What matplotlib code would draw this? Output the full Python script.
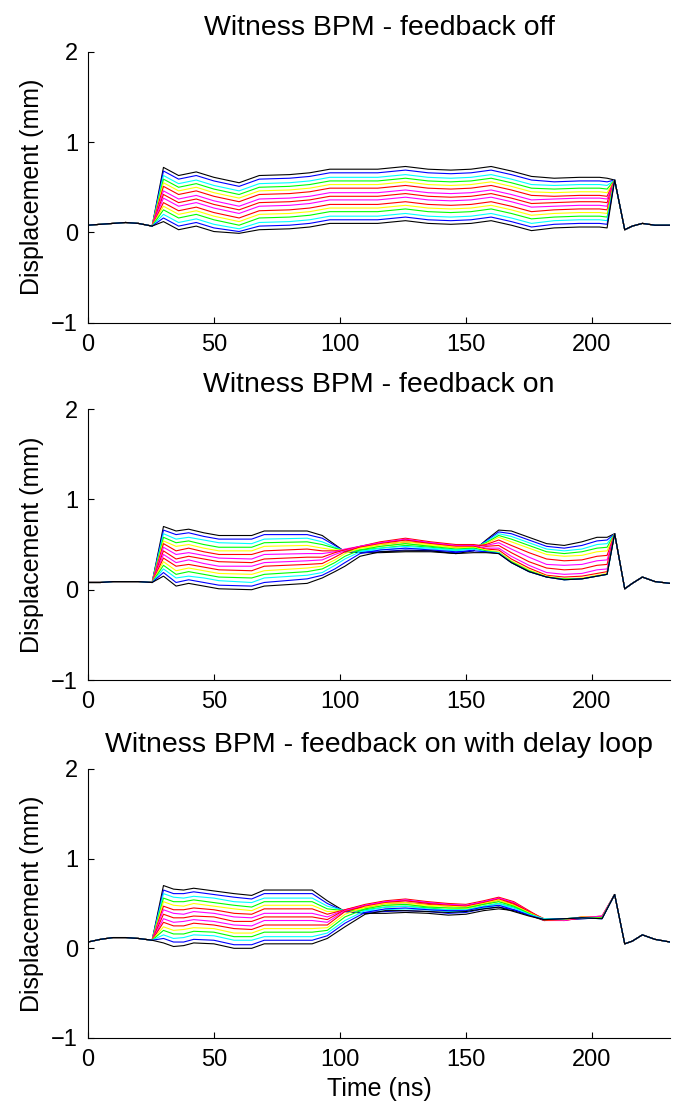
import matplotlib
matplotlib.use("Agg")
import matplotlib.pyplot as plt

plt.rcParams['font.family'] = ['Liberation Sans', 'DejaVu Sans']

# ---------------- data ----------------
titles = ["Witness BPM - feedback off",
          "Witness BPM - feedback on",
          "Witness BPM - feedback on with delay loop"]
xticks = [0, 50, 100, 150, 200]
yticks = [-1, 0, 1, 2]

# trace colours, top trace to bottom trace
trace_colors = ['#000000', '#0000ff', '#00ffff', '#00ff00', '#ffff00', '#ff0000', '#ff00ff',
                '#ff0000', '#ff00ff', '#ff0000', '#ffff00', '#00ff00', '#00ffff', '#0000ff', '#000000']

# shared pre-pulse part (ns, mm)
head_t = [0, 5, 10, 15, 20, 25.5]
off_head = [0.08, 0.09, 0.10, 0.11, 0.10, 0.07]
on_head = [0.08, 0.08, 0.09, 0.09, 0.09, 0.08]
dl_head = [0.07, 0.10, 0.12, 0.12, 0.11, 0.09]

# shared end spike and tail
tail_t = [209, 213, 216, 220, 225, 231]
off_tail = [0.58, 0.03, 0.07, 0.10, 0.08, 0.08]
on_tail = [0.62, 0.01, 0.07, 0.14, 0.09, 0.07]
dl_tail = [0.60, 0.05, 0.08, 0.15, 0.10, 0.07]

# ---- feedback off: pulse body, one row per trace
off_t = [30, 36, 43, 50, 60, 68, 80, 88, 96, 105, 115, 126, 135, 144, 152, 160, 168, 176, 185, 195, 203, 206]
off_traces = [
    [.72, .63, .67, .61, .55, .63, .64, .66, .70, .70, .70, .73, .70, .69, .70, .73, .68, .62, .60, .61, .61, .60],
    [.68, .59, .63, .57, .51, .59, .60, .62, .66, .66, .66, .69, .66, .65, .66, .69, .64, .58, .56, .57, .57, .56],
    [.63, .54, .58, .52, .46, .54, .55, .57, .61, .61, .61, .64, .61, .60, .61, .64, .59, .53, .52, .53, .53, .52],
    [.59, .50, .54, .48, .42, .50, .51, .53, .57, .57, .57, .60, .57, .56, .57, .60, .55, .49, .48, .49, .49, .48],
    [.55, .46, .50, .44, .38, .46, .47, .49, .53, .53, .53, .56, .53, .52, .53, .56, .51, .45, .44, .45, .45, .44],
    [.51, .42, .46, .40, .34, .42, .43, .45, .49, .49, .49, .52, .49, .48, .49, .52, .47, .41, .40, .41, .41, .40],
    [.46, .37, .41, .35, .29, .37, .38, .40, .44, .44, .44, .47, .44, .43, .44, .47, .42, .36, .37, .38, .38, .37],
    [.42, .33, .37, .31, .25, .33, .34, .36, .40, .40, .40, .43, .40, .39, .40, .43, .38, .32, .33, .34, .34, .33],
    [.38, .29, .33, .27, .21, .29, .30, .32, .36, .36, .36, .39, .36, .35, .36, .39, .34, .28, .29, .30, .30, .29],
    [.33, .24, .28, .22, .16, .24, .25, .27, .31, .31, .31, .34, .31, .30, .31, .34, .29, .23, .25, .26, .26, .25],
    [.29, .20, .24, .18, .12, .20, .21, .23, .27, .27, .27, .30, .27, .26, .27, .30, .25, .19, .21, .22, .22, .21],
    [.25, .16, .20, .14, .08, .16, .17, .19, .23, .23, .23, .26, .23, .22, .23, .26, .21, .15, .17, .18, .18, .17],
    [.20, .11, .15, .09, .04, .11, .12, .14, .18, .18, .18, .21, .18, .17, .18, .21, .16, .10, .13, .14, .14, .13],
    [.16, .07, .11, .05, .01, .07, .08, .10, .14, .14, .14, .17, .14, .13, .14, .17, .12, .06, .09, .10, .10, .09],
    [.12, .03, .07, .01, -.01, .03, .04, .06, .10, .10, .10, .13, .10, .09, .10, .13, .08, .02, .05, .06, .06, .05],
]

# ---- feedback on
on_t = [30, 35, 40, 46, 52, 65, 70, 87, 93, 98, 102, 108, 116, 126, 136, 146, 153, 158, 163, 168, 175, 182, 189, 196, 202, 206]
on_traces = [
    [.70, .65, .67, .63, .60, .60, .65, .65, .60, .50, .42, .41, .41, .42, .42, .40, .43, .55, .66, .65, .58, .51, .49, .53, .58, .58],
    [.66, .61, .63, .59, .56, .56, .61, .61, .57, .49, .42, .42, .42, .44, .43, .41, .44, .54, .64, .62, .55, .48, .46, .49, .54, .55],
    [.62, .56, .58, .55, .52, .51, .56, .57, .53, .47, .43, .43, .44, .46, .45, .43, .45, .53, .62, .59, .52, .45, .43, .45, .50, .51],
    [.58, .52, .54, .50, .47, .47, .52, .53, .50, .46, .43, .44, .46, .49, .47, .44, .46, .52, .60, .56, .49, .42, .40, .42, .46, .47],
    [.54, .48, .50, .46, .43, .43, .48, .49, .46, .44, .44, .46, .48, .51, .49, .46, .47, .51, .58, .53, .46, .39, .37, .38, .42, .43],
    [.51, .43, .46, .42, .39, .39, .43, .45, .43, .43, .44, .47, .50, .53, .51, .47, .48, .50, .55, .49, .41, .34, .32, .33, .37, .38],
    [.47, .39, .41, .38, .35, .34, .39, .40, .40, .42, .45, .48, .52, .55, .52, .49, .49, .49, .52, .45, .36, .28, .27, .28, .32, .33],
    [.43, .34, .37, .34, .31, .30, .34, .36, .36, .41, .44, .48, .53, .57, .53, .50, .50, .48, .49, .41, .31, .24, .22, .23, .27, .28],
    [.39, .30, .33, .29, .26, .26, .30, .32, .33, .39, .43, .48, .52, .56, .52, .49, .49, .46, .46, .37, .27, .19, .17, .18, .22, .23],
    [.35, .26, .28, .25, .22, .21, .26, .28, .29, .36, .42, .47, .51, .55, .51, .48, .48, .45, .44, .34, .24, .16, .14, .15, .18, .20],
    [.31, .21, .24, .21, .18, .17, .21, .24, .26, .33, .40, .46, .50, .53, .50, .47, .47, .44, .42, .32, .22, .15, .12, .13, .16, .18],
    [.27, .17, .20, .17, .14, .13, .17, .20, .23, .30, .37, .44, .48, .51, .48, .45, .46, .43, .41, .31, .21, .14, .12, .12, .15, .17],
    [.23, .13, .15, .13, .10, .08, .13, .16, .19, .27, .34, .42, .46, .48, .46, .44, .45, .42, .41, .30, .20, .14, .11, .12, .15, .17],
    [.19, .08, .11, .08, .05, .04, .08, .12, .16, .23, .30, .40, .44, .46, .44, .42, .43, .42, .40, .30, .20, .14, .11, .12, .15, .17],
    [.15, .04, .07, .04, .01, .00, .04, .07, .13, .20, .26, .37, .42, .43, .43, .40, .41, .41, .40, .30, .20, .14, .11, .12, .15, .17],
]

# ---- feedback on with delay loop
dl_t = [30, 34, 38, 42, 50, 58, 65, 70, 89, 95, 102, 110, 118, 126, 135, 143, 150, 157, 163, 169, 175, 181, 189, 196, 204]
dl_traces = [
    [.70, .66, .65, .67, .64, .61, .59, .65, .65, .53, .41, .39, .39, .40, .39, .37, .38, .42, .44, .42, .37, .31, .32, .33, .34],
    [.65, .61, .61, .63, .60, .57, .55, .61, .61, .50, .41, .40, .41, .42, .41, .39, .40, .44, .46, .43, .38, .32, .32, .33, .34],
    [.61, .57, .56, .58, .56, .52, .51, .56, .56, .47, .42, .42, .43, .44, .43, .41, .41, .45, .48, .45, .38, .32, .33, .34, .35],
    [.56, .52, .52, .54, .51, .48, .46, .52, .52, .44, .42, .43, .46, .47, .45, .43, .43, .47, .50, .46, .39, .32, .33, .34, .35],
    [.52, .48, .47, .50, .47, .44, .42, .48, .48, .41, .42, .45, .48, .49, .47, .45, .44, .49, .52, .48, .40, .33, .32, .34, .35],
    [.47, .43, .43, .45, .43, .39, .38, .44, .44, .38, .43, .46, .50, .51, .49, .47, .46, .50, .54, .49, .41, .33, .32, .34, .36],
    [.43, .39, .38, .41, .39, .35, .34, .39, .39, .35, .43, .48, .52, .53, .51, .49, .47, .52, .56, .51, .41, .32, .31, .34, .36],
    [.38, .34, .34, .36, .35, .30, .30, .35, .35, .32, .43, .49, .53, .55, .52, .50, .49, .53, .57, .52, .42, .32, .31, .34, .35],
    [.33, .29, .30, .32, .30, .26, .25, .31, .31, .29, .42, .48, .52, .54, .51, .49, .48, .52, .56, .51, .41, .31, .31, .35, .35],
    [.29, .25, .25, .28, .26, .22, .21, .26, .26, .26, .41, .47, .51, .53, .50, .48, .47, .51, .55, .50, .41, .31, .32, .35, .34],
    [.24, .20, .21, .23, .22, .17, .17, .22, .22, .23, .38, .46, .50, .51, .48, .47, .46, .50, .54, .48, .40, .32, .32, .35, .34],
    [.20, .16, .16, .19, .18, .13, .13, .18, .18, .20, .35, .44, .48, .49, .46, .45, .45, .49, .52, .47, .39, .32, .33, .34, .34],
    [.15, .11, .12, .15, .14, .09, .09, .13, .13, .17, .31, .42, .46, .47, .44, .43, .43, .47, .50, .45, .38, .33, .33, .34, .33],
    [.11, .07, .07, .10, .09, .04, .04, .09, .09, .14, .28, .40, .44, .45, .43, .42, .42, .46, .48, .43, .37, .32, .33, .34, .33],
    [.06, .02, .03, .06, .05, .00, .00, .05, .05, .11, .24, .38, .42, .42, .41, .40, .41, .44, .46, .41, .36, .32, .33, .34, .33],
]

# ---------------- figure ----------------
fig = plt.figure(figsize=(6.81, 11.13), dpi=100)
ax_rects = [[0.129, 0.710, 0.855, 0.2435],
            [0.129, 0.389, 0.855, 0.2435],
            [0.129, 0.0674, 0.855, 0.2417]]

panels = [(off_t, off_traces, off_head, off_tail),
          (on_t, on_traces, on_head, on_tail),
          (dl_t, dl_traces, dl_head, dl_tail)]

for i, (rect, (bt, rows, hy, ty)) in enumerate(zip(ax_rects, panels)):
    ax = fig.add_axes(rect)
    for row, col in zip(rows, trace_colors):
        ax.plot(head_t + bt + tail_t, hy + row + ty, color=col, lw=0.8)
    ax.set_xlim(0, 231)
    ax.set_ylim(-1, 2)
    ax.set_xticks(xticks)
    ax.set_yticks(yticks)
    for s in ['top', 'right']:
        ax.spines[s].set_visible(False)
    for s in ['left', 'bottom']:
        ax.spines[s].set_linewidth(0.8)
    ax.tick_params(direction='in', length=4, width=0.8, labelsize=17, pad=7)
    ax.tick_params(axis='x', pad=8)
    ax.set_ylabel("Displacement (mm)", fontsize=18, labelpad=5)
    ax.set_title(titles[i], fontsize=20.5, pad=12)
    if i == 2:
        ax.set_xlabel("Time (ns)", fontsize=18, labelpad=4)

fig.savefig("out.png", dpi=100)
